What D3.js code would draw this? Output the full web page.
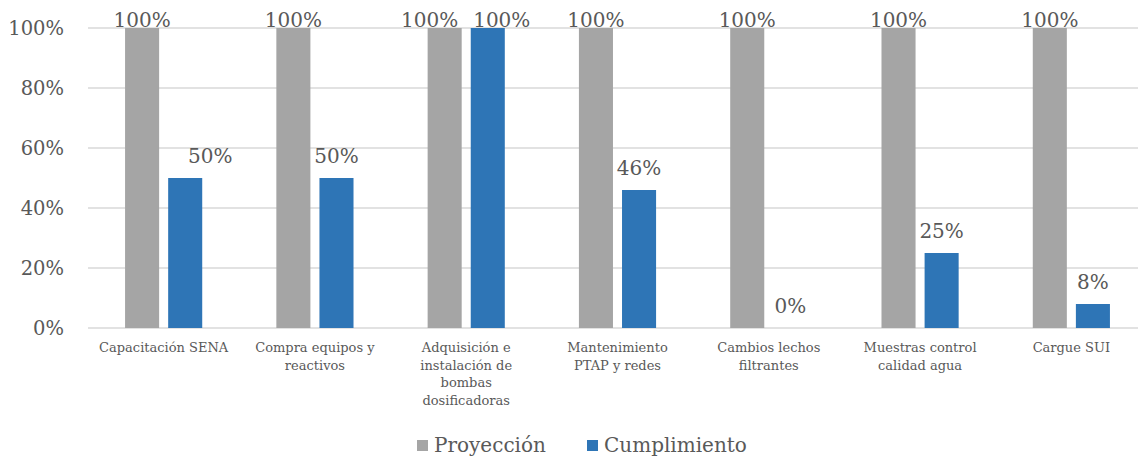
<!DOCTYPE html>
<html><head><meta charset="utf-8">
<script src="https://cdn.jsdelivr.net/npm/d3@7"></script>
<style>body{margin:0;background:#fff}svg{display:block}</style>
</head><body>
<svg id="c" width="1138" height="458"></svg>
<script>
const categories = [
  ["Capacitación SENA"],
  ["Compra equipos y", "reactivos"],
  ["Adquisición e", "instalación de", "bombas", "dosificadoras"],
  ["Mantenimiento", "PTAP y redes"],
  ["Cambios lechos", "filtrantes"],
  ["Muestras control", "calidad agua"],
  ["Cargue SUI"]
];
const seriesNames = ["Proyección", "Cumplimiento"];
const proyeccion = [1, 1, 1, 1, 1, 1, 1];
const cumplimiento = [0.50, 0.50, 1.00, 0.46, 0.00, 0.25, 0.08];
const yTicks = [0, 0.2, 0.4, 0.6, 0.8, 1.0];
const colors = ["#a5a5a5", "#2e75b6"];

const svg = d3.select("#c");
const font = "'DejaVu Serif', serif";
const textColor = "#595959";
const x = d3.scaleBand().domain(d3.range(categories.length)).range([88, 1147]).paddingInner(0.49).paddingOuter(0.245);
const x1 = d3.scaleBand().domain([0, 1]).range([0, x.bandwidth()]).paddingInner(0.21);
const y = d3.scaleLinear().domain([0, 1]).range([328, 28]);
const pct = d3.format(".0%");

// gridlines
svg.append("g").selectAll("line").data(yTicks).join("line")
  .attr("x1", 88).attr("x2", 1138)
  .attr("y1", d => y(d)).attr("y2", d => y(d))
  .attr("stroke", "#d9d9d9").attr("stroke-width", 1.3);

// y axis labels
const yAxis = d3.axisLeft(y).tickValues(yTicks).tickFormat(pct).tickSize(0).tickPadding(0);
const ya = svg.append("g").attr("transform", "translate(64,0)").call(yAxis);
ya.select(".domain").remove();
ya.selectAll("text").attr("font-family", font).attr("font-size", 19.5).attr("fill", textColor);

// manual label nudges (as in the original chart)
function labelDx(s, i) {
  if (s === 1 && i === 0) return 25;
  if (i === 2) return s === 0 ? -15 : 14;
  return 0;
}

const series = [proyeccion, cumplimiento];
series.forEach((vals, s) => {
  const g = svg.append("g");
  g.selectAll("rect").data(vals).join("rect")
    .attr("x", (d, i) => x(i) + x1(s))
    .attr("width", x1.bandwidth())
    .attr("y", d => y(d))
    .attr("height", d => y(0) - y(d))
    .attr("fill", colors[s]);
  g.selectAll("text").data(vals).join("text")
    .attr("x", (d, i) => x(i) + x1(s) + x1.bandwidth() / 2 + labelDx(s, i))
    .attr("y", d => Math.max(y(d) - 15, 27))
    .attr("text-anchor", "middle")
    .attr("font-family", font).attr("font-size", 20).attr("fill", textColor)
    .text(d => pct(d));
});

// x labels
const xl = svg.append("g");
categories.forEach((lines, i) => {
  const t = xl.append("text")
    .attr("x", x(i) + x.bandwidth() / 2)
    .attr("y", 352)
    .attr("text-anchor", "middle")
    .attr("font-family", font).attr("font-size", 13).attr("fill", textColor);
  lines.forEach((l, j) => t.append("tspan").attr("x", x(i) + x.bandwidth() / 2).attr("dy", j ? 17.5 : 0).text(l));
});

// legend
const legX = [417, 587];
seriesNames.forEach((n, s) => {
  svg.append("rect").attr("x", legX[s]).attr("y", 440).attr("width", 11).attr("height", 11).attr("fill", colors[s]);
  svg.append("text").attr("x", legX[s] + 17).attr("y", 452)
    .attr("font-family", font).attr("font-size", 20).attr("fill", textColor).text(n);
});
</script>
</body></html>
